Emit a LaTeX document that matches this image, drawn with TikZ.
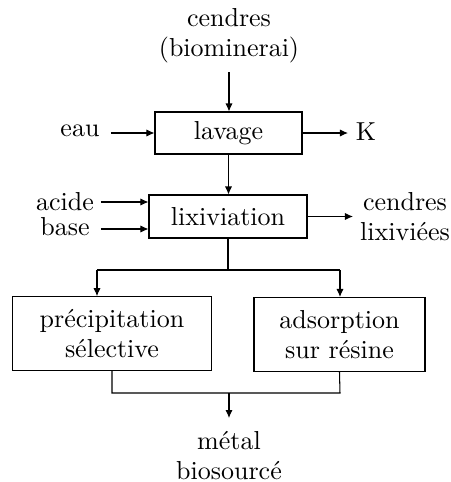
\documentclass[tikz,border=0pt]{standalone}
\usetikzlibrary{arrows.meta}
\begin{document}
\begin{tikzpicture}[x=0.4pt,y=-0.4pt,
  every node/.style={font=\fontsize{10.4}{12}\selectfont},
  box/.style={draw, line width=0.42pt, inner sep=0pt, align=center},
  lbl/.style={inner sep=0pt, align=center},
  arr/.style={-{Latex[length=3.2pt,width=2.9pt]}, line width=0.42pt},
  ln/.style={line width=0.42pt}]
\useasboundingbox (0,0) rectangle (451,482);
% boxes
\node[box, minimum width=58.8pt, minimum height=16.8pt] (lav) at (228.5,133) {lavage};
\node[box, minimum width=63.2pt, minimum height=17.2pt] (lix) at (228,216.5) {lixiviation};
\node[box, minimum width=79.6pt, minimum height=29.6pt] (prec) at (112,333.7) {précipitation\\sélective};
\node[box, minimum width=68.4pt, minimum height=29.6pt] (ads) at (339.5,334.5) {adsorption\\sur résine};
% labels
\node[lbl] (cend) at (229,36) {cendres\\(biominerai)};
\node[lbl] (eau) at (80,131) {eau};
\node[lbl] (K) at (366,132) {K};
\node[lbl] (acide) at (65,202) {acide};
\node[lbl] (base) at (65,227) {base};
\node[lbl] (clix) at (405,217) {cendres\\lixiviées};
\node[lbl] (metal) at (229,456) {métal\\biosourcé};
% coordinates
\coordinate (c1) at (229,72);
\coordinate (e1) at (111,133);
\coordinate (k1) at (348,133);
\coordinate (a1) at (101,202);
\coordinate (b1) at (101,229);
\coordinate (l1) at (353,216.5);
\coordinate (split) at (228,270);
\coordinate (sl) at (97,270);
\coordinate (sr) at (340,270);
\coordinate (jl) at (112,393);
\coordinate (jr) at (340,393);
\coordinate (jm) at (229,393);
\coordinate (m1) at (229,418);
% connectors
\draw[arr] (c1) -- (c1 |- lav.north);
\draw[arr] (e1) -- (lav.west |- e1);
\draw[arr] (lav.east |- k1) -- (k1);
\draw[arr] (lav.south) -- (lav.south |- lix.north);
\draw[arr] (a1) -- (lix.west |- a1);
\draw[arr] (b1) -- (lix.west |- b1);
\draw[arr] (lix.east) -- (l1);
\draw[ln] (lix.south) -- (split);
\draw[ln] (sl) -- (sr);
\draw[arr] (sl) -- (sl |- prec.north);
\draw[arr] (sr) -- (sr |- ads.north);
\draw[ln] (prec.south) -- (jl) -- (jr) -- (ads.south);
\draw[arr] (jm) -- (m1);
\end{tikzpicture}
\end{document}
